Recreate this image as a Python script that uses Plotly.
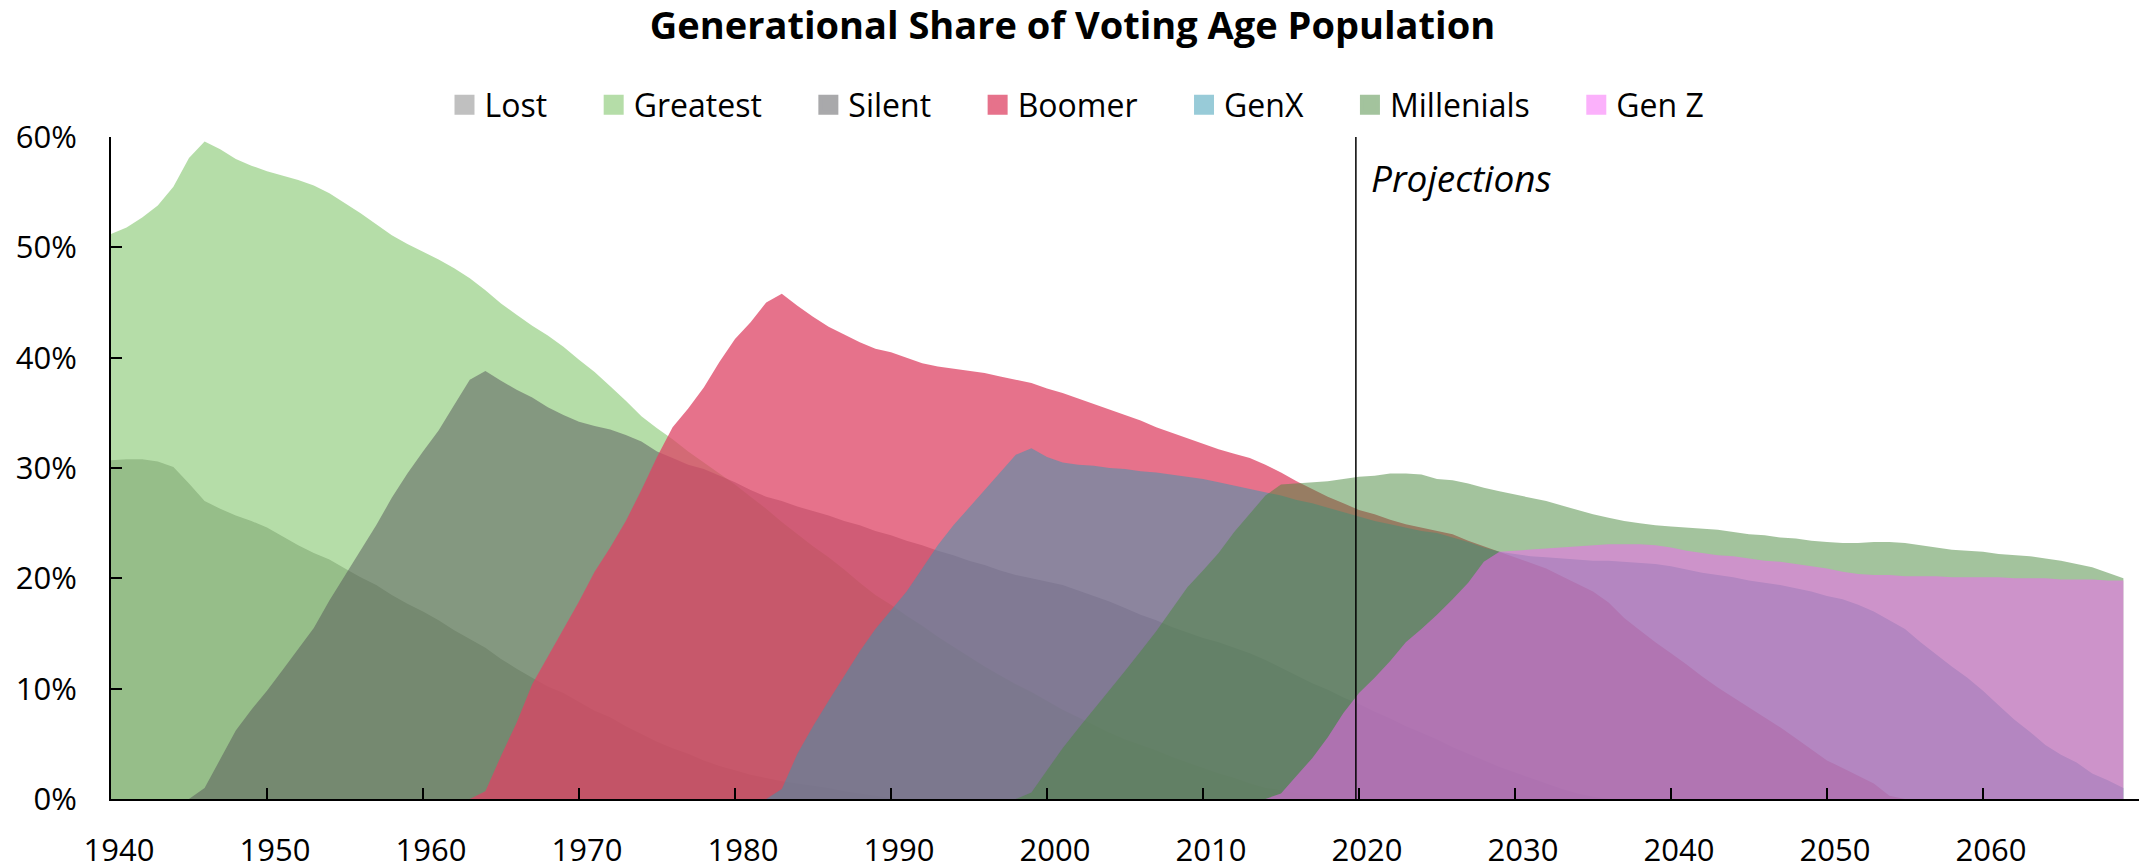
import plotly.graph_objects as go

# ---------------- data (share of voting-age population, %) ----------------
lost_start = 1940
lost = [30.7, 30.8, 30.8, 30.6, 30.1, 28.6, 27.0, 26.3, 25.7, 25.2, 24.6, 23.8, 23.0, 22.3,
        21.7, 20.9, 20.1, 19.4, 18.5, 17.7, 17.0, 16.2, 15.3, 14.5, 13.7, 12.7, 11.8, 11.0,
        10.2, 9.6, 8.8, 8.0, 7.4, 6.6, 5.9, 5.2, 4.6, 4.1, 3.5, 3.0, 2.6, 2.2, 1.9, 1.6, 1.4,
        1.2, 1.0, 0.7, 0.5, 0.3, 0.1, 0.0]

greatest_start = 1940
greatest = [51.2, 51.8, 52.7, 53.8, 55.5, 58.1, 59.6, 58.9, 58.0, 57.4, 56.9, 56.5, 56.1, 55.6,
            54.9, 54.0, 53.1, 52.1, 51.1, 50.3, 49.6, 48.9, 48.1, 47.2, 46.1, 44.9, 43.9, 42.9,
            42.0, 41.0, 39.8, 38.7, 37.4, 36.1, 34.7, 33.6, 32.6, 31.5, 30.5, 29.5, 28.5, 27.4,
            26.3, 25.1, 24.0, 22.9, 21.9, 20.8, 19.6, 18.5, 17.6, 16.6, 15.7, 14.7, 13.8, 12.9,
            12.0, 11.2, 10.4, 9.7, 8.9, 8.1, 7.4, 6.7, 6.0, 5.4, 4.9, 4.4, 3.8, 3.3, 2.8, 2.3,
            1.9, 1.4, 1.0, 0.8, 0.5, 0.3, 0.1, 0.0]

silent_start = 1945
silent = [0.0, 1.0, 3.6, 6.2, 8.1, 9.8, 11.7, 13.6, 15.5, 18.0, 20.3, 22.5, 24.8, 27.3, 29.5,
          31.5, 33.4, 35.7, 38.0, 38.8, 37.9, 37.1, 36.4, 35.5, 34.8, 34.2, 33.8, 33.5, 33.0,
          32.4, 31.5, 30.9, 30.3, 29.9, 29.3, 28.7, 28.0, 27.4, 27.0, 26.5, 26.1, 25.7, 25.2,
          24.8, 24.3, 23.9, 23.4, 23.0, 22.5, 22.1, 21.6, 21.2, 20.7, 20.3, 20.0, 19.7, 19.4,
          18.9, 18.4, 17.9, 17.3, 16.7, 16.2, 15.6, 15.1, 14.6, 14.2, 13.7, 13.2, 12.6, 11.9,
          11.2, 10.5, 9.9, 9.2, 8.6, 7.9, 7.3, 6.6, 6.0, 5.4, 4.7, 4.1, 3.5, 2.9, 2.4, 1.9,
          1.4, 0.9, 0.5, 0.2, 0.0]

boomer_start = 1963
boomer = [0.0, 0.7, 3.9, 6.9, 10.4, 12.9, 15.3, 17.9, 20.6, 22.8, 25.2, 28.0, 31.0, 33.7, 35.4,
          37.3, 39.6, 41.7, 43.2, 45.0, 45.8, 44.7, 43.7, 42.8, 42.1, 41.4, 40.8, 40.5, 40.0,
          39.5, 39.2, 39.0, 38.8, 38.6, 38.3, 38.0, 37.7, 37.2, 36.8, 36.3, 35.8, 35.3, 34.8,
          34.3, 33.7, 33.2, 32.7, 32.2, 31.7, 31.3, 30.9, 30.3, 29.6, 28.8, 28.1, 27.4, 26.8,
          26.2, 25.8, 25.3, 24.9, 24.6, 24.3, 24.0, 23.4, 22.9, 22.4, 21.9, 21.4, 20.9, 20.2,
          19.5, 18.8, 17.8, 16.4, 15.3, 14.2, 13.2, 12.2, 11.1, 10.1, 9.2, 8.3, 7.4, 6.5, 5.5,
          4.5, 3.5, 2.8, 2.1, 1.4, 0.3, 0.0]

genx_start = 1982
genx = [0.0, 0.9, 4.1, 6.6, 8.9, 11.2, 13.4, 15.4, 17.1, 18.8, 20.9, 23.0, 24.8, 26.4, 28.1,
        29.6, 31.2, 31.8, 31.0, 30.5, 30.3, 30.2, 30.0, 29.9, 29.7, 29.6, 29.4, 29.2, 29.0,
        28.7, 28.4, 28.1, 27.8, 27.5, 27.1, 26.8, 26.4, 26.0, 25.6, 25.2, 24.9, 24.6, 24.3,
        24.1, 23.7, 23.3, 22.8, 22.4, 22.2, 22.0, 21.9, 21.8, 21.7, 21.6, 21.6, 21.5, 21.4,
        21.3, 21.1, 20.8, 20.5, 20.3, 20.1, 19.8, 19.6, 19.4, 19.1, 18.8, 18.4, 18.1, 17.6,
        17.0, 16.2, 15.4, 14.2, 13.1, 12.0, 11.0, 9.8, 8.5, 7.2, 6.1, 4.9, 4.0, 3.3, 2.3,
        1.7, 1.0]

millenials_start = 1998
millenials = [0.0, 0.6, 2.6, 4.6, 6.4, 8.1, 9.8, 11.6, 13.4, 15.2, 17.2, 19.2, 20.7, 22.3, 24.2,
              25.8, 27.5, 28.5, 28.6, 28.7, 28.8, 29.0, 29.2, 29.3, 29.5, 29.5, 29.4, 29.0, 28.9,
              28.6, 28.2, 27.9, 27.6, 27.3, 27.0, 26.6, 26.2, 25.8, 25.5, 25.2, 25.0, 24.8, 24.7,
              24.6, 24.5, 24.4, 24.2, 24.0, 23.9, 23.7, 23.6, 23.4, 23.3, 23.2, 23.2, 23.3, 23.3,
              23.2, 23.0, 22.8, 22.6, 22.5, 22.4, 22.2, 22.1, 22.0, 21.8, 21.6, 21.3, 21.0, 20.5,
              20.0]

genz_start = 2014
genz = [0.0, 0.5, 2.1, 3.7, 5.6, 7.8, 9.6, 11.0, 12.5, 14.2, 15.4, 16.7, 18.1, 19.6, 21.5, 22.4,
        22.5, 22.6, 22.7, 22.8, 22.9, 23.0, 23.1, 23.1, 23.1, 23.0, 22.8, 22.5, 22.3, 22.1,
        22.0, 21.8, 21.6, 21.5, 21.3, 21.1, 20.9, 20.6, 20.4, 20.3, 20.3, 20.2, 20.2, 20.2,
        20.1, 20.1, 20.1, 20.1, 20.0, 20.0, 20.0, 19.9, 19.9, 19.9, 19.8, 19.8]

names = ["Lost", "Greatest", "Silent", "Boomer", "GenX", "Millenials", "Gen Z"]
starts = [lost_start, greatest_start, silent_start, boomer_start, genx_start,
          millenials_start, genz_start]
values = [lost, greatest, silent, boomer, genx, millenials, genz]

fill_colors = ["rgba(129,129,129,0.5)", "rgba(107,187,81,0.5)", "rgba(83,83,87,0.5)",
               "rgba(222,67,100,0.75)", "rgba(49,151,177,0.5)", "rgba(71,135,59,0.5)",
               "rgba(247,99,247,0.5)"]
legend_colors = ["#c0c0c0", "#b5dda8", "#a9a9ab", "#e6728b", "#98cbd8", "#a3c39d", "#fbb1fb"]

x_ticks = list(range(1940, 2071, 10))
x_ticktext = [str(t) for t in x_ticks[:-1]] + [""]
y_ticks = list(range(0, 61, 10))
y_ticktext = [f"{t}%" for t in y_ticks]

projection_year = 2019.8
projection_label = "Projections"
title_text = "Generational Share of Voting Age Population"

FONT = "Open Sans"
W, H = 2145, 864
M_L, M_R, M_T, M_B = 111, 6, 137, 65
PLOT_H = H - M_T - M_B
PLOT_W = W - M_L - M_R

fig = go.Figure()

for name, start, vals, fc in zip(names, starts, values, fill_colors):
    xs = list(range(start, start + len(vals)))
    fig.add_trace(go.Scatter(
        x=xs, y=vals, mode="lines", line=dict(width=0, color=fc),
        fill="tozeroy", fillcolor=fc, showlegend=False, hoverinfo="skip", name=name))

PAD = "&nbsp;" * 5
for i, (name, lc) in enumerate(zip(names, legend_colors)):
    label = name + (PAD if i < len(names) - 1 else "")
    fig.add_trace(go.Scatter(
        x=[None], y=[None], mode="markers", name=label,
        marker=dict(symbol="square", size=16, color=lc, line=dict(width=4, color=lc)),
        showlegend=True))

fig.add_shape(type="line", x0=projection_year, x1=projection_year, y0=0, y1=60.15,
              xref="x", yref="y", line=dict(color="black", width=1.5), layer="above")

fig.add_annotation(x=projection_year, y=56.3, xref="x", yref="y",
                   text="<i>" + projection_label + "</i>",
                   showarrow=False, xanchor="left", yanchor="middle", xshift=13,
                   font=dict(family=FONT, size=37, color="black"))

fig.update_layout(
    width=W, height=H,
    margin=dict(l=M_L, r=M_R, t=M_T, b=M_B, autoexpand=False),
    paper_bgcolor="white", plot_bgcolor="white",
    font=dict(family=FONT, color="black", size=30),
    title=dict(text="<b>" + title_text + "</b>", font=dict(family=FONT, size=38, color="black"),
               x=0.5, xanchor="center", xref="container",
               y=1 - 26 / H, yref="container", yanchor="middle"),
    legend=dict(orientation="h", x=(1077 - M_L) / PLOT_W, xanchor="center", xref="paper",
                y=1 + (M_T - 105) / PLOT_H, yref="paper", yanchor="middle",
                font=dict(family=FONT, size=32, color="black"), bgcolor="rgba(0,0,0,0)",
                traceorder="normal"),
    showlegend=True,
)

fig.update_xaxes(range=[1940, 2070], tickmode="array", tickvals=x_ticks, ticktext=x_ticktext,
                 ticks="inside", ticklen=11, tickwidth=2, tickcolor="black",
                 showline=True, linecolor="black", linewidth=2, showgrid=False, zeroline=False,
                 tickfont=dict(family=FONT, size=31, color="black"), automargin=False,
                 ticklabelshift=8, ticklabelstandoff=23)
fig.update_yaxes(range=[0, 60], tickmode="array", tickvals=y_ticks, ticktext=y_ticktext,
                 ticks="inside", ticklen=11, tickwidth=2, tickcolor="black",
                 showline=True, linecolor="black", linewidth=2, showgrid=False, zeroline=False,
                 tickfont=dict(family=FONT, size=31, color="black"), automargin=False,
                 ticklabelstandoff=26)

fig.write_html("out.html", config={"displayModeBar": False},
               post_script="document.body.style.margin='0';")
